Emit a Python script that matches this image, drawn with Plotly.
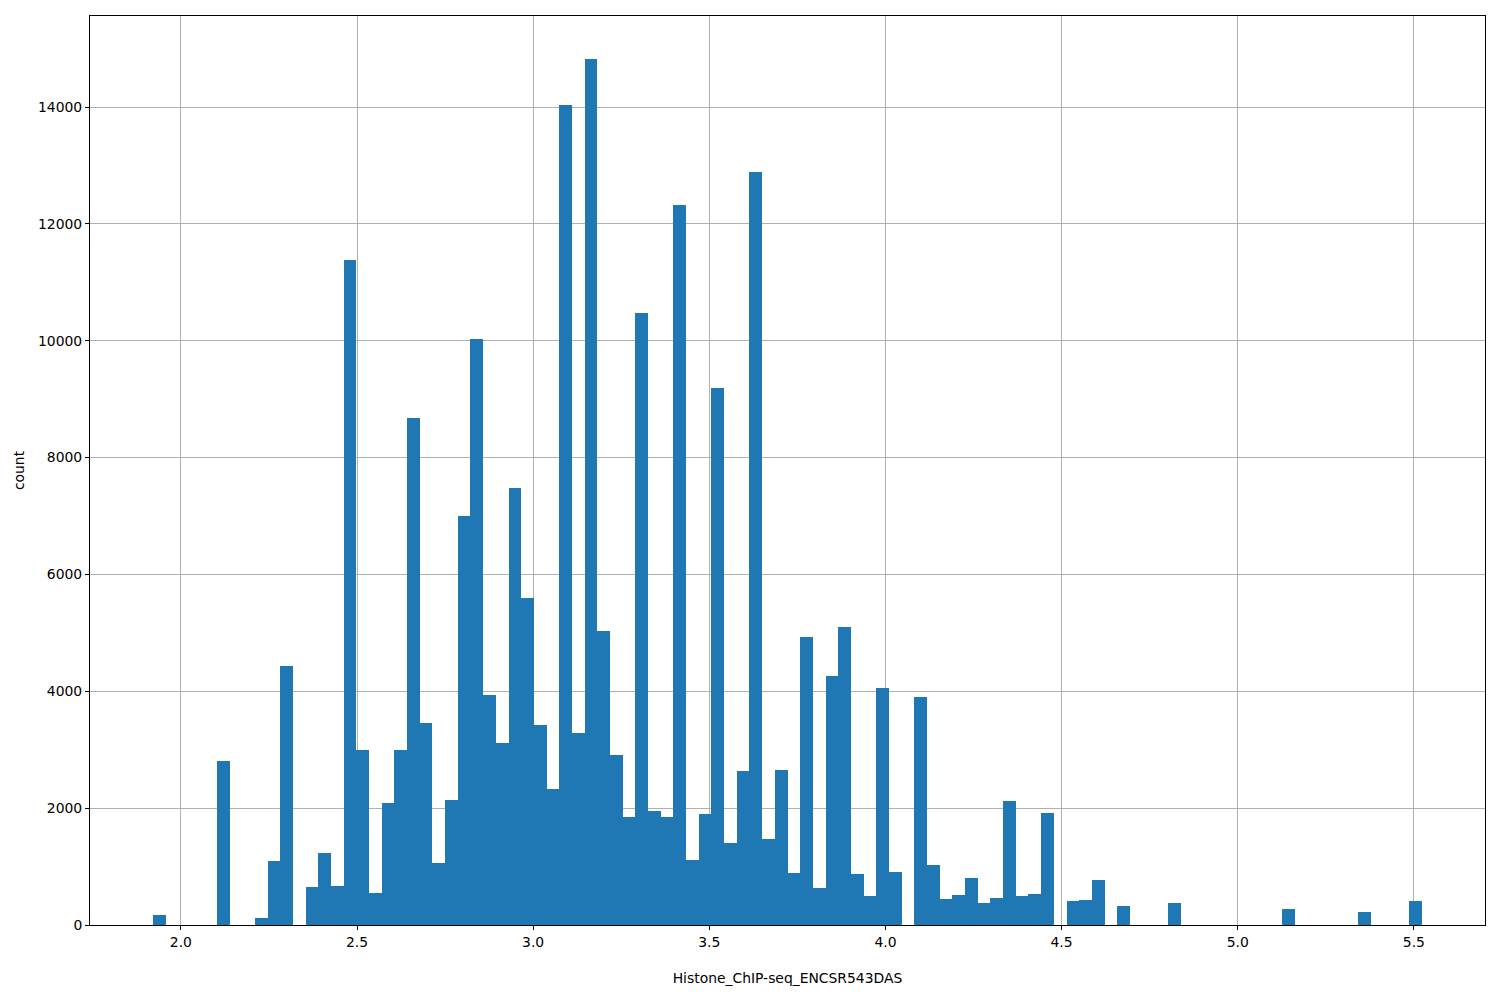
import plotly.graph_objects as go

# Histogram: 100 equal-width bins
bin_start = 1.922
bin_width = 0.036
counts = [
    171, 0, 0, 0, 0, 2803, 0, 0, 120, 1100,
    4427, 0, 650, 1231, 665, 11375, 3000, 542, 2092, 3000,
    8680, 3458, 1053, 2145, 7000, 10023, 3939, 3122, 7481, 5596,
    3420, 2325, 14043, 3290, 14818, 5027, 2911, 1852, 10476, 1958,
    1852, 12319, 1115, 1905, 9200, 1408, 2638, 12884, 1472, 2655,
    894, 4927, 638, 4264, 5097, 877, 494, 4060, 910, 0,
    3908, 1029, 446, 514, 806, 377, 463, 2126, 497, 531,
    1920, 0, 411, 429, 771, 0, 326, 0, 0, 0,
    382, 0, 0, 0, 0, 0, 0, 0, 0, 279,
    0, 0, 0, 0, 0, 228, 0, 0, 0, 416,
]
x_label = "Histone_ChIP-seq_ENCSR543DAS"
y_label = "count"

centers = [bin_start + bin_width * (i + 0.5) for i in range(len(counts))]
x_min = bin_start
x_max = bin_start + bin_width * len(counts)
pad = 0.05 * (x_max - x_min)

fig = go.Figure()
fig.add_trace(go.Bar(
    x=centers, y=counts, width=bin_width,
    marker=dict(color="#1f77b4", line=dict(width=0)),
    showlegend=False,
))

font = dict(family="DejaVu Sans", size=13.9, color="black")
axis_common = dict(
    showline=True, linecolor="black", linewidth=1, mirror=True,
    ticks="outside", ticklen=4, tickcolor="black", tickwidth=1,
    showgrid=True, gridcolor="#b0b0b0", gridwidth=1,
    zeroline=False, layer="above traces",
    tickfont=font,
)
fig.update_layout(
    width=1500, height=1000,
    margin=dict(l=82, r=23, t=8, b=83),
    paper_bgcolor="white", plot_bgcolor="white",
    bargap=0, font=font,
    xaxis=dict(
        range=[x_min - pad, x_max + pad],
        tick0=2.0, dtick=0.5, tickformat=".1f",
        title=dict(text=x_label, font=font, standoff=24),
        **axis_common,
    ),
    yaxis=dict(
        range=[0, max(counts) * 1.05],
        tick0=0, dtick=2000, tickformat="d",
        title=dict(text=y_label, font=font, standoff=10),
        **axis_common,
    ),
)

fig.write_html("out.html")
